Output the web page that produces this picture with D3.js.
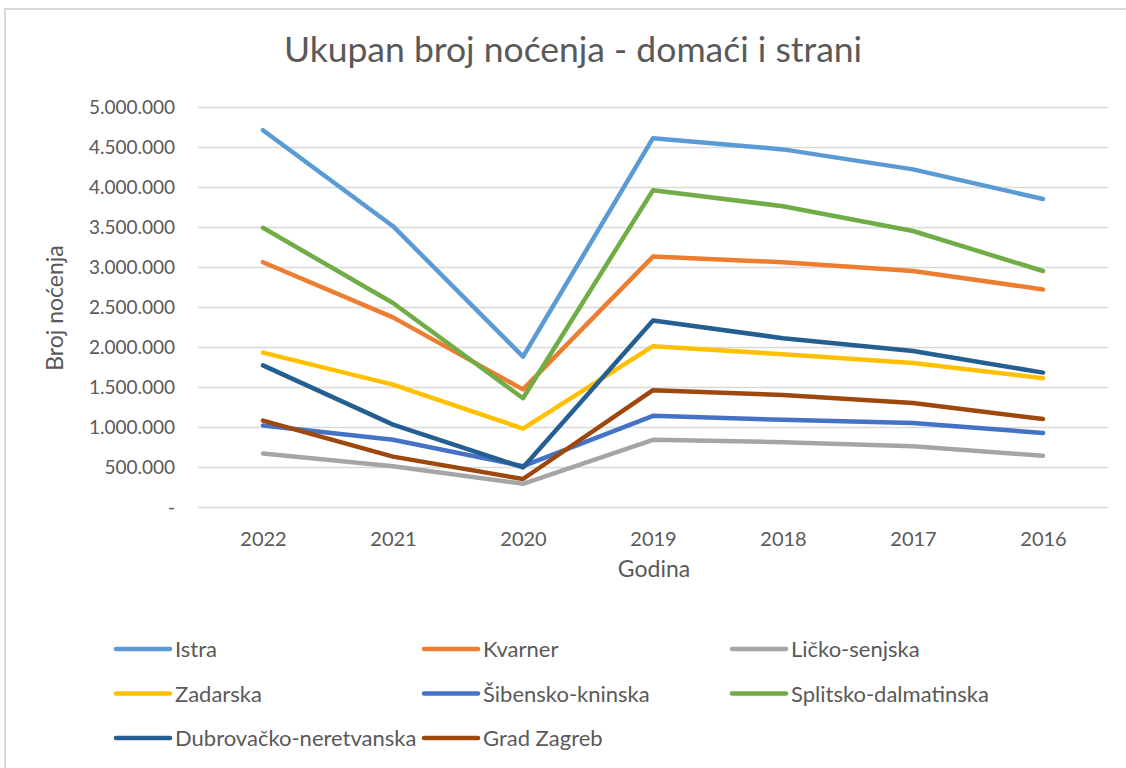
<!DOCTYPE html>
<html>
<head>
<meta charset="utf-8">
<script src="https://cdn.jsdelivr.net/npm/d3@7"></script>
<style>
  body { margin: 0; background: #fff; }
  text { font-family: Lato, "Open Sans", sans-serif; fill: #595959; }
</style>
</head>
<body>
<div id="chart"></div>
<script>
const years = ['2022', '2021', '2020', '2019', '2018', '2017', '2016'];
const yTicks = [0, 500000, 1000000, 1500000, 2000000, 2500000, 3000000, 3500000, 4000000, 4500000, 5000000];

// vrijednosti ocitane sa slike, redom po godinama
const istra = [4710000, 3510000, 1880000, 4610000, 4470000, 4220000, 3850000];
const kvarner = [3060000, 2370000, 1470000, 3130000, 3060000, 2950000, 2720000];
const licko = [670000, 510000, 290000, 840000, 810000, 760000, 640000];
const zadarska = [1930000, 1530000, 980000, 2010000, 1910000, 1800000, 1610000];
const sibensko = [1020000, 840000, 510000, 1140000, 1090000, 1050000, 925000];
const splitsko = [3490000, 2550000, 1360000, 3960000, 3760000, 3450000, 2950000];
const dubrovacko = [1770000, 1030000, 495000, 2330000, 2110000, 1950000, 1680000];
const zagreb = [1080000, 630000, 350000, 1460000, 1400000, 1300000, 1100000];

const series = [
    { name: 'Istra', values: istra, color: '#5B9BD5' },
    { name: 'Kvarner', values: kvarner, color: '#ED7D31' },
    { name: 'Ličko-senjska', values: licko, color: '#A5A5A5' },
    { name: 'Zadarska', values: zadarska, color: '#FFC000' },
    { name: 'Šibensko-kninska', values: sibensko, color: '#4472C4' },
    { name: 'Splitsko-dalmatinska', values: splitsko, color: '#70AD47' },
    { name: 'Dubrovačko-neretvanska', values: dubrovacko, color: '#255E91' },
    { name: 'Grad Zagreb', values: zagreb, color: '#9E480E' }
];

const W = 1126, H = 768;
const margin = { left: 198, right: 18, top: 107, bottom: 261 };

const svg = d3.select('#chart').append('svg').attr('width', W).attr('height', H);

svg.append('rect').attr('x', 5).attr('y', 9).attr('width', W + 10).attr('height', H + 10)
    .attr('fill', '#fff').attr('stroke', '#d9d9d9').attr('stroke-width', 2);

const x = d3.scalePoint().domain(years).range([margin.left, W - margin.right]).padding(0.5);
const y = d3.scaleLinear().domain([0, 5000000]).range([H - margin.bottom, margin.top]);

const fmt = v => v === 0 ? '-' : d3.format(',')(v).replace(/,/g, '.');

// mreza
const grid = svg.append('g')
    .attr('transform', `translate(${margin.left},0)`)
    .call(d3.axisLeft(y).tickValues(yTicks).tickSize(-(W - margin.left - margin.right)).tickFormat(''));
grid.select('.domain').remove();
grid.selectAll('line').attr('stroke', '#d9d9d9').attr('stroke-width', 1.5);

// y oznake
const yAxis = svg.append('g')
    .attr('transform', `translate(${margin.left},0)`)
    .call(d3.axisLeft(y).tickValues(yTicks).tickSize(0).tickPadding(23).tickFormat(fmt));
yAxis.select('.domain').remove();
yAxis.selectAll('text').style('font-size', '19px').attr('fill', '#595959');

// x oznake
const xAxis = svg.append('g')
    .attr('transform', `translate(0,${H - margin.bottom})`)
    .call(d3.axisBottom(x).tickSize(0).tickPadding(25));
xAxis.select('.domain').remove();
xAxis.selectAll('text').style('font-size', '20px').attr('fill', '#595959');

const line = d3.line().x((d, i) => x(years[i])).y(d => y(d));

series.forEach(s => {
    svg.append('path').datum(s.values)
        .attr('fill', 'none').attr('stroke', s.color).attr('stroke-width', 4.5)
        .attr('stroke-linejoin', 'round').attr('stroke-linecap', 'round')
        .attr('d', line);
});

svg.append('text').attr('x', 573).attr('y', 62).attr('text-anchor', 'middle')
    .style('font-size', '35.5px').text('Ukupan broj noćenja - domaći i strani');

svg.append('text').attr('x', 654).attr('y', 577).attr('text-anchor', 'middle')
    .style('font-size', '23px').text('Godina');

svg.append('text').attr('transform', 'translate(63,308) rotate(-90)').attr('text-anchor', 'middle')
    .style('font-size', '23px').text('Broj noćenja');

// legenda
const legend = svg.append('g');
series.forEach((s, i) => {
    const col = i % 3, row = Math.floor(i / 3);
    const g = legend.append('g').attr('transform', `translate(${116 + col * 308},${649 + row * 44.5})`);
    g.append('line').attr('x1', 0).attr('x2', 54).attr('y1', 0).attr('y2', 0)
        .attr('stroke', s.color).attr('stroke-width', 4.5).attr('stroke-linecap', 'round');
    g.append('text').attr('x', 59).attr('y', 8).style('font-size', '22px').text(s.name);
});
</script>
</body>
</html>
